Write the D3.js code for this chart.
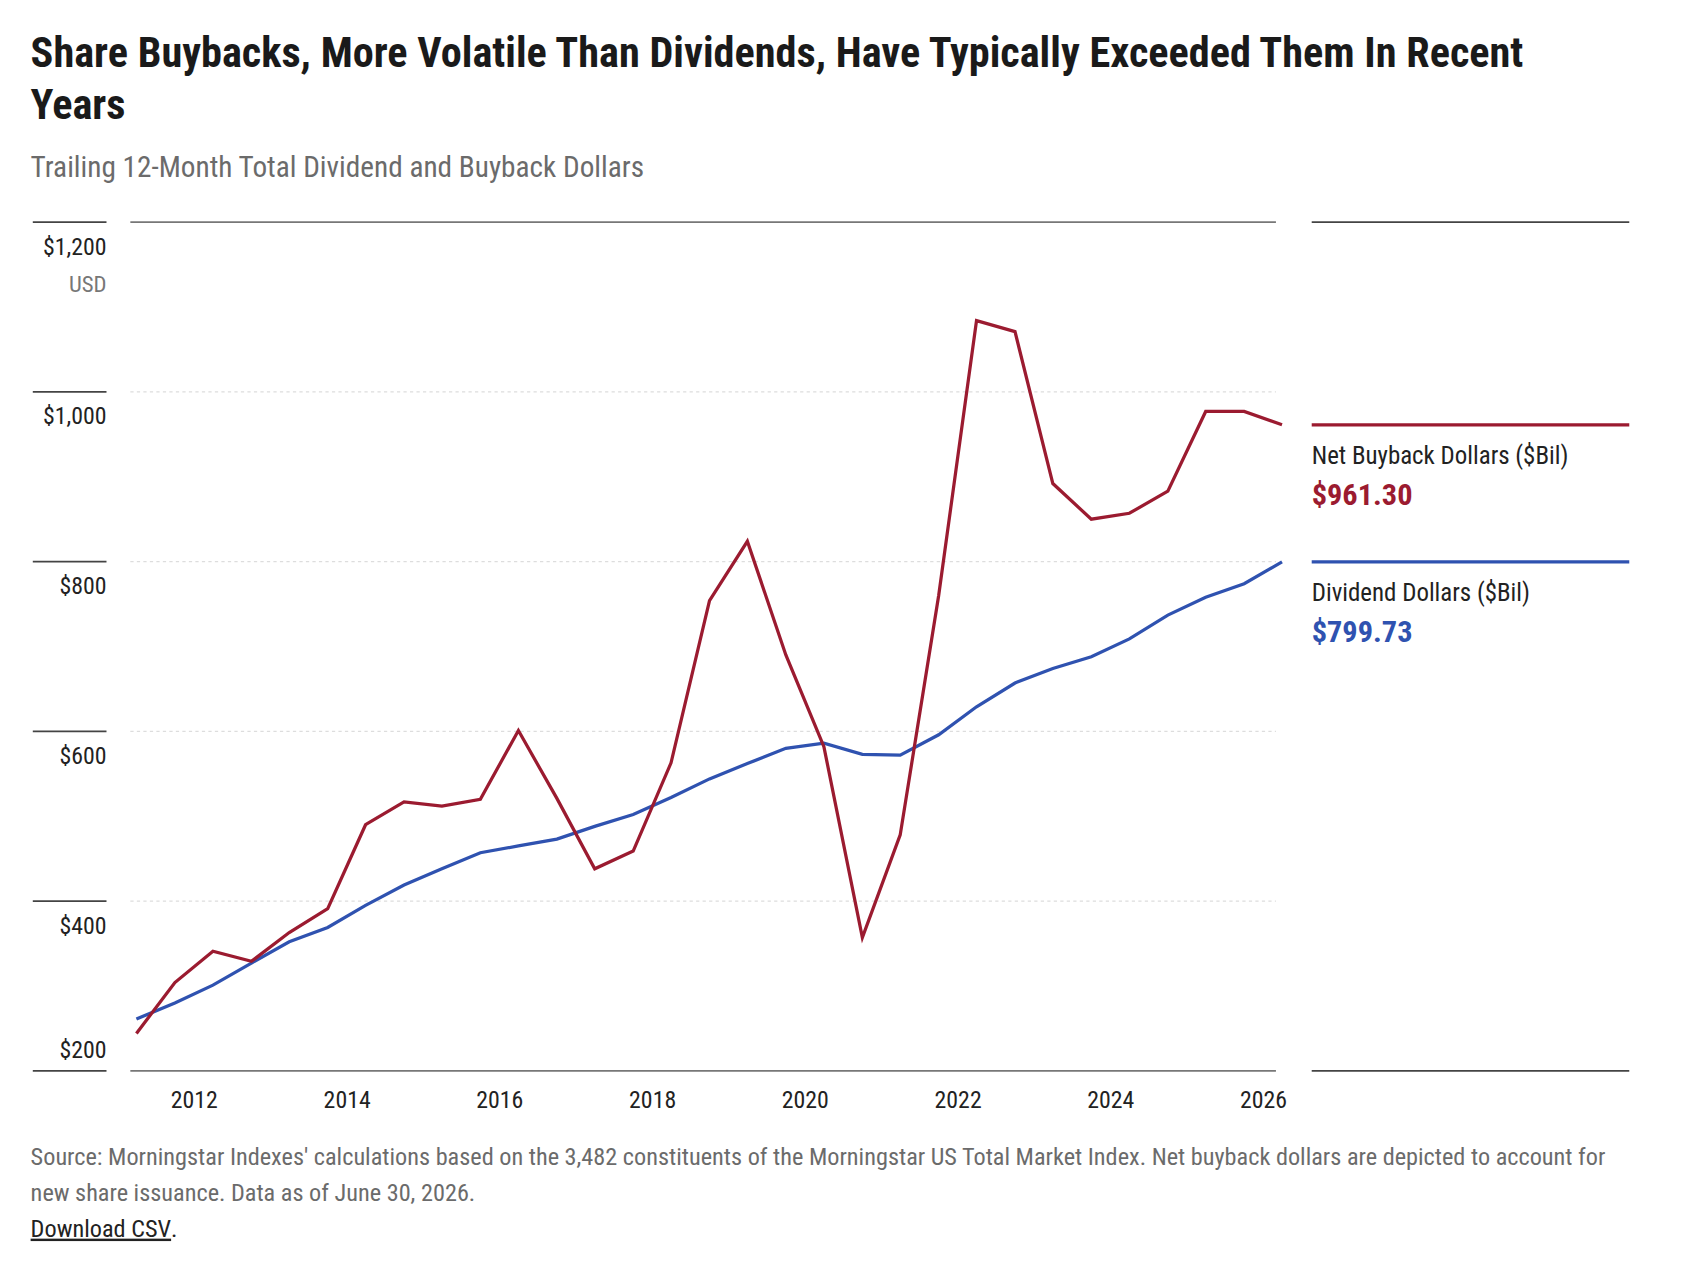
<!DOCTYPE html>
<html><head><meta charset="utf-8">
<script src="https://cdn.jsdelivr.net/npm/d3@7"></script>
<style>
body{margin:0;background:#fff;}
text{font-family:"Liberation Sans Narrow","Roboto Condensed",Roboto,sans-serif;}
</style></head>
<body><div id="chart"></div>
<script>
// semiannual points, March 2011 .. March 2026
const dates = d3.range(31).map(i => new Date(2011 + Math.floor(i / 2), i % 2 ? 8 : 2, 30));
const buybacks = [244,304,341,329,363,391,490,517,512,520,601,521,438,459,563,754,824,690,582,357,478,760,1084,1071,892,850,857,883,977,977,961.3];
const dividends = [261,280,301,327,352,369,395,419,438,457,465,473,488,502,522,544,562,580,586,573,572,596,629,657,674,688,709,737,758,774,799.73];
const yTicks = [200,400,600,800,1000,1200];
const xTicks = [2012,2014,2016,2018,2020,2022,2024,2026];
const red = "#9b1b30", blue = "#2f52b0";

const W = 1568, H = 1181;
const svg = d3.select("#chart").append("svg").attr("width",1700).attr("height",1280).attr("viewBox",`0 0 ${W} ${H}`);
const x = d3.scaleTime().domain([new Date(2011,2,1), new Date(2026,2,1)]).range([120,1177]);
const y = d3.scaleLinear().domain([200,1200]).range([988,205]);

svg.append("text").attr("x",28).attr("y",62).attr("font-size",39).attr("font-weight",700).attr("fill","#1a1a1a")
  .text("Share Buybacks, More Volatile Than Dividends, Have Typically Exceeded Them In Recent");
svg.append("text").attr("x",28).attr("y",110).attr("font-size",39).attr("font-weight",700).attr("fill","#1a1a1a").text("Years");
svg.append("text").attr("x",28).attr("y",163).attr("font-size",27).attr("fill","#6b6b6b").text("Trailing 12-Month Total Dividend and Buyback Dollars");

// gridlines
yTicks.forEach(v => {
  const edge = v === 200 || v === 1200;
  svg.append("line").attr("x1",120).attr("x2",1177).attr("y1",y(v)).attr("y2",y(v))
    .attr("stroke", edge ? "#777" : "#ddd").attr("stroke-width", edge ? 1.5 : 1)
    .attr("stroke-dasharray", edge ? null : "3,3");
  svg.append("line").attr("x1",30).attr("x2",98).attr("y1",y(v)).attr("y2",y(v)).attr("stroke","#444").attr("stroke-width",1.5);
  svg.append("text").attr("x",98).attr("y", v === 200 ? y(v) - 12 : y(v) + 30).attr("text-anchor","end")
    .attr("font-size",22).attr("fill","#222").text("$" + d3.format(",")(v));
});
svg.append("text").attr("x",98).attr("y",y(1200)+64).attr("text-anchor","end").attr("font-size",21).attr("fill","#777").text("USD");

xTicks.forEach(t => {
  svg.append("text").attr("x",x(new Date(t,0,1))).attr("y",1022).attr("text-anchor","middle")
    .attr("font-size",22).attr("fill","#222").text(t);
});

const line = d3.line().x((d,i) => x(dates[i])).y(d => y(d));
svg.append("path").datum(dividends).attr("d",line).attr("fill","none").attr("stroke",blue).attr("stroke-width",3);
svg.append("path").datum(buybacks).attr("d",line).attr("fill","none").attr("stroke",red).attr("stroke-width",3);

// right legend panel
[[205,"#444",1.5],[988,"#444",1.5],[y(961.3),red,3],[y(799.73),blue,3]].forEach(([yy,c,w]) =>
  svg.append("line").attr("x1",1210).attr("x2",1503).attr("y1",yy).attr("y2",yy).attr("stroke",c).attr("stroke-width",w));
[["Net Buyback Dollars ($Bil)","$961.30",y(961.3),red],["Dividend Dollars ($Bil)","$799.73",y(799.73),blue]].forEach(([lab,val,yy,c]) => {
  svg.append("text").attr("x",1210).attr("y",yy+36).attr("font-size",23).attr("fill","#222").text(lab);
  svg.append("text").attr("x",1210).attr("y",yy+74).attr("font-size",28).attr("font-weight",700).attr("fill",c).text(val);
});

svg.append("text").attr("x",28).attr("y",1075).attr("font-size",22.4).attr("fill","#6b6b6b")
  .text("Source: Morningstar Indexes' calculations based on the 3,482 constituents of the Morningstar US Total Market Index. Net buyback dollars are depicted to account for");
svg.append("text").attr("x",28).attr("y",1108).attr("font-size",22.4).attr("fill","#6b6b6b").text("new share issuance. Data as of June 30, 2026.");
const dl = svg.append("text").attr("x",28).attr("y",1141).attr("font-size",22.4).attr("fill","#222");
dl.append("tspan").text("Download CSV").attr("text-decoration","underline");
dl.append("tspan").text(".");
</script></body></html>
